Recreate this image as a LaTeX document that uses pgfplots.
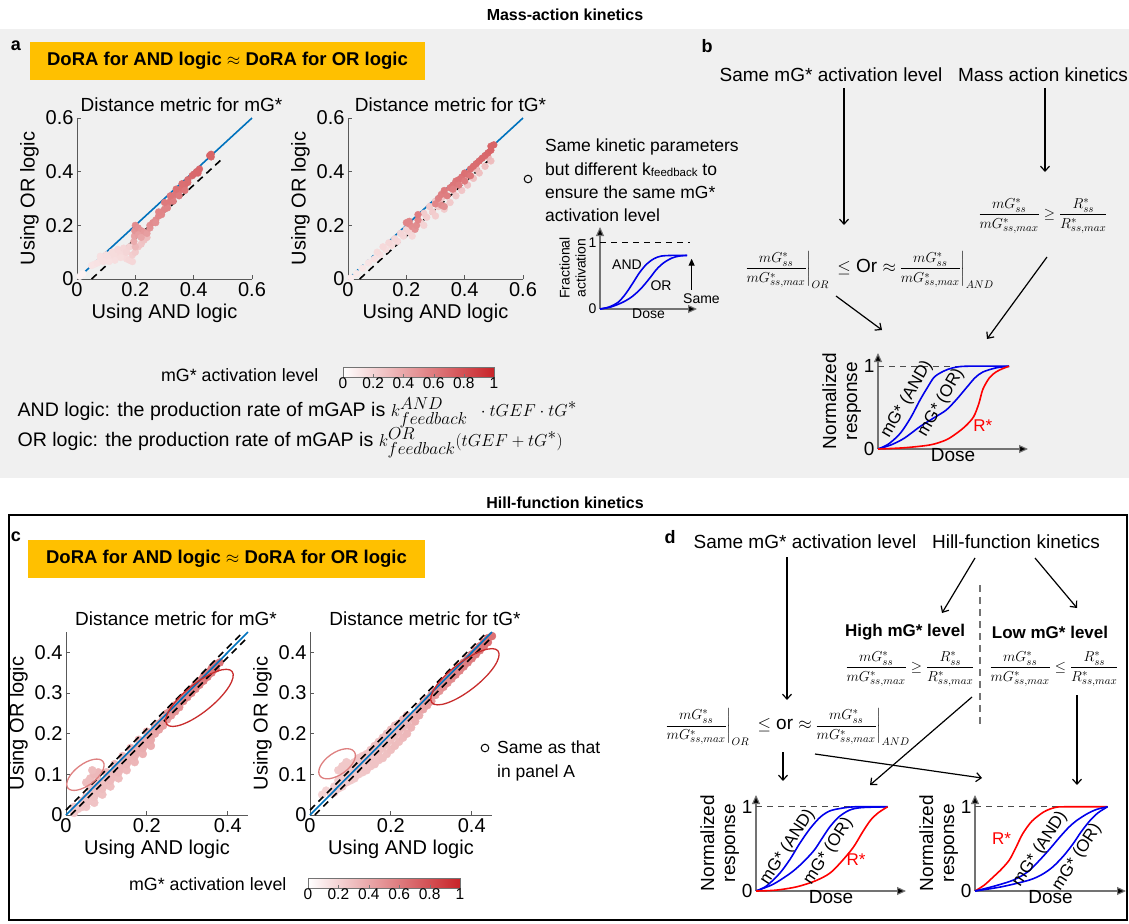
\documentclass[border=0pt]{standalone}
\usepackage{amsmath}
\usepackage{pgfplots}
\pgfplotsset{compat=1.18}
\usepackage{fontspec}
\setmainfont{Liberation Sans}
\usetikzlibrary{arrows.meta}
\DeclareMathSizes{19}{19}{16}{12}
\newcommand\fs[2]{\fontsize{#1}{#2}\selectfont}
\definecolor{bgray}{RGB}{240,240,240}
\definecolor{orng}{RGB}{255,192,0}
\definecolor{mblue}{RGB}{0,114,189}
\definecolor{ellA}{RGB}{222,128,128}
\definecolor{ellB}{RGB}{200,45,45}
\definecolor{cblue}{RGB}{0,0,235}
\definecolor{cred}{RGB}{255,0,0}
\newcommand\mgfrac{\dfrac{mG^*_{ss}}{mG^*_{ss,max}}}
\newcommand\rfrac{\dfrac{R^*_{ss}}{R^*_{ss,max}}}
\pgfplotsset{
  wrmap/.style={colormap={wr}{rgb255(0)=(255,255,255) rgb255(1)=(200,35,40)}, point meta min=0, point meta max=1},
  sc/.style={wrmap,
    scale only axis, clip=false, clip marker paths=true,
    axis x line*=bottom, axis y line*=left,
    axis line style={line width=0.8pt, black!65},
    tick style={black!65, line width=0.8pt},
    tick align=inside, major tick length=4pt,
    ticklabel style={font=\fs{20}{22}},
    /pgf/number format/assume math mode=true,
    xlabel style={font=\fs{20}{22}},
    ylabel style={font=\fs{20}{22}},
    title style={font=\fs{19}{22}, yshift=-3pt},
  },
  inset/.style={
    scale only axis, clip=false, axis lines=left,
    axis line style={line width=1.1pt, black!55},
    every outer x axis line/.append style={-{Triangle[length=9pt,width=8pt,fill=black]}},
    every outer y axis line/.append style={-{Triangle[length=9pt,width=8pt,fill=black]}},
    xtick=\empty, ytick={0,1}, major tick length=0pt,
    /pgf/number format/assume math mode=true,
    ymin=0, xmin=0,
  },
  cbar/.style={wrmap, scale only axis, xmin=0,xmax=1,ymin=0,ymax=1, ytick=\empty,
    xtick={0,0.2,0.4,0.6,0.8,1}, xtick pos=lower, tick align=inside, major tick length=3pt,
    axis line style={black!55, line width=0.9pt}, tick style={black!55},
    xticklabel style={font=\fs{15.5}{17}, yshift=3pt}, /pgf/number format/assume math mode=true,
    axis on top},
}
\begin{document}
\begin{tikzpicture}
\begin{scope}[x=1pt,y=-1pt]
\path[use as bounding box] (0,0) rectangle (1129,923);
\fill[bgray] (0,29) rectangle (1129,478);
\node[font=\bfseries\fs{16}{19}] at (565,15) {Mass-action kinetics};
\node[font=\bfseries\fs{16}{19}] at (565,503) {Hill-function kinetics};
\draw[line width=1.4pt] (9,515) rectangle (1127,920);
\node[font=\bfseries\fs{18}{20}] at (16,46) {a};
\node[font=\bfseries\fs{18}{20}] at (707,46) {b};
\node[font=\bfseries\fs{18}{20}] at (16,537) {c};
\node[font=\bfseries\fs{18}{20}] at (670,537) {d};
\fill[orng] (30,42) rectangle (425,80);
\node[font=\bfseries\fs{18.5}{20}] at (227.5,61) {DoRA for AND logic $\approx$ DoRA for OR logic};
\fill[orng] (28,540) rectangle (425,578);
\node[font=\bfseries\fs{18.5}{20}] at (226.5,559) {DoRA for AND logic $\approx$ DoRA for OR logic};
% side text a
\draw[line width=1pt] (528,179) circle (3.8);
\begin{scope}[every node/.style={anchor=west, font=\fs{17.5}{20}, inner sep=0pt}]
\node at (545,147) {Same kinetic parameters};
\node at (545,170) {but different k{\fs{11.5}{12}\raisebox{-1pt}{feedback}} to};
\node at (545,192) {ensure the same mG*};
\node at (545,215) {activation level};
\node at (497,747) {Same as that};
\node at (497,773) {in panel A};
\end{scope}
\draw[line width=1pt] (485,748) circle (3.8);
\node[anchor=east, font=\fs{17.8}{20}] at (322,375) {mG* activation level};
\node[anchor=east, font=\fs{17.8}{20}] at (290,884) {mG* activation level};
\node[anchor=west, font=\fs{19.6}{22}] at (14,413) {AND logic: the production rate of mGAP is {\fs{19}{22}$k^{AND}_{feedback}\;\;\cdot tGEF\cdot tG^*$}};
\node[anchor=west, font=\fs{19.6}{22}] at (14,443) {OR logic: the production rate of mGAP is {\fs{19}{22}$k^{OR}_{feedback}(tGEF+tG^*)$}};
% panel b
\node[font=\fs{19}{22}] at (831,75) {Same mG* activation level};
\node[font=\fs{19}{22}] at (1043,75) {Mass action kinetics};
\begin{scope}[line width=1.2pt, -{Straight Barb[length=5pt,width=9pt]}]
\draw (844,88) -- (844,225);
\draw (1045,88) -- (1045,172);
\draw (1047,257) -- (987,339);
\draw (836,296) -- (882,330);
\end{scope}
\node[font=\fs{15}{18}] at (1043,216) {$\mgfrac \geq \rfrac$};
\node[font=\fs{15}{18}] at (869,270) {$\left.\mgfrac\right|_{OR}$\ \ {\fs{19}{22}$\leq$ Or $\approx$}\,$\left.\mgfrac\right|_{AND}$};
% panel d
\node[font=\fs{19}{22}] at (805,542) {Same mG* activation level};
\node[font=\fs{19}{22}] at (1016,542) {Hill-function kinetics};
\node[font=\bfseries\fs{17}{20}] at (905,632) {High mG* level};
\node[font=\bfseries\fs{17}{20}] at (1050,632) {Low mG* level};
\draw[black!55, line width=1.2pt, dash pattern=on 7pt off 5pt] (980,585) -- (980,727);
\node[font=\fs{15}{18}] at (910,669) {$\mgfrac \geq \rfrac$};
\node[font=\fs{15}{18}] at (1054,669) {$\mgfrac \leq \rfrac$};
\node[font=\fs{15}{18}] at (787,727) {$\left.\mgfrac\right|_{OR}$\ \ {\fs{19}{22}$\leq$ or $\approx$}\,$\left.\mgfrac\right|_{AND}$};
\begin{scope}[line width=1.2pt, -{Straight Barb[length=5pt,width=9pt]}]
\draw (787,557) -- (787,700);
\draw (975,558) -- (942,613);
\draw (1035,558) -- (1077,608);
\draw (972,697) -- (870,785);
\draw (815,754) -- (982,778);
\draw (783,752) -- (783,781);
\draw (1077,695) -- (1077,785);
\end{scope}
\end{scope}

% ---------- a1
\begin{axis}[sc, at={(77pt,-279pt)}, anchor=south west, width=175pt, height=161pt,
  xmin=0,xmax=0.6,ymin=0,ymax=0.6, xtick={0,0.2,0.4,0.6}, ytick={0,0.2,0.4,0.6},
  title={Distance metric for mG*}, title style={xshift=17pt},
  xlabel={Using AND logic}, ylabel={Using OR logic}]
\addplot[mblue, line width=1.6pt] coordinates {(0.01,0.01) (0.6,0.6)};
\addplot[black, line width=1.6pt, dash pattern=on 7pt off 5pt] coordinates {(0.05,0) (0.5,0.45)};
\addplot[scatter, only marks, mark=*, mark size=3.4pt, point meta=explicit,
  scatter/use mapped color={draw=mapped color, fill=mapped color}] table[x=x,y=y,meta=m] {
x y m
0.01 0.01 0.05
0.02 0.02 0.06
0.05 0.05 0.12
0.06 0.055 0.12
0.07 0.06 0.13
0.08 0.07 0.13
0.09 0.065 0.14
0.10 0.075 0.14
0.11 0.08 0.15
0.12 0.075 0.15
0.13 0.085 0.16
0.14 0.09 0.16
0.15 0.095 0.17
0.16 0.085 0.17
0.17 0.075 0.17
0.18 0.07 0.18
0.19 0.065 0.18
0.08 0.085 0.14
0.10 0.09 0.15
0.12 0.10 0.16
0.14 0.11 0.17
0.16 0.115 0.18
0.18 0.12 0.2
0.17 0.10 0.19
0.15 0.08 0.16
0.13 0.07 0.15
0.11 0.065 0.14
0.19 0.09 0.22
0.20 0.10 0.24
0.21 0.12 0.26
0.22 0.13 0.27
0.23 0.145 0.28
0.24 0.155 0.3
0.20 0.12 0.32
0.195 0.14 0.38
0.197 0.16 0.42
0.198 0.18 0.48
0.20 0.20 0.52
0.21 0.19 0.5
0.22 0.18 0.48
0.23 0.175 0.46
0.24 0.17 0.44
0.21 0.165 0.44
0.22 0.155 0.4
0.25 0.19 0.48
0.25 0.20 0.5
0.26 0.21 0.52
0.27 0.22 0.52
0.28 0.235 0.54
0.29 0.25 0.55
0.30 0.26 0.56
0.31 0.28 0.58
0.32 0.29 0.6
0.33 0.31 0.6
0.34 0.32 0.62
0.35 0.33 0.62
0.36 0.34 0.64
0.37 0.35 0.65
0.38 0.37 0.66
0.38 0.36 0.66
0.37 0.33 0.62
0.35 0.31 0.6
0.33 0.29 0.58
0.31 0.265 0.56
0.29 0.24 0.54
0.27 0.21 0.5
0.30 0.285 0.6
0.32 0.31 0.62
0.34 0.335 0.64
0.36 0.355 0.65
0.28 0.25 0.55
0.395 0.385 0.67
0.40 0.39 0.68
0.41 0.40 0.68
0.42 0.41 0.69
0.415 0.395 0.68
0.46 0.455 0.7
0.46 0.465 0.7
0.455 0.46 0.7
};
\end{axis}

% ---------- a2
\begin{axis}[sc, at={(348pt,-279pt)}, anchor=south west, width=175pt, height=161pt,
  xmin=0,xmax=0.6,ymin=0,ymax=0.6, xtick={0,0.2,0.4,0.6}, ytick={0,0.2,0.4,0.6},
  title={Distance metric for tG*}, title style={xshift=15pt},
  xlabel={Using AND logic}, ylabel={Using OR logic}]
\addplot[mblue, line width=1.6pt, dash pattern=on 3pt off 4pt] coordinates {(0.01,0.01) (0.14,0.14)};
\addplot[mblue, line width=1.6pt] coordinates {(0.14,0.14) (0.6,0.6)};
\addplot[black, line width=1.6pt, dash pattern=on 7pt off 5pt] coordinates {(0.04,0) (0.49,0.45)};
\addplot[scatter, only marks, mark=*, mark size=3.4pt, point meta=explicit,
  scatter/use mapped color={draw=mapped color, fill=mapped color}] table[x=x,y=y,meta=m] {
x y m
0.01 0.005 0.08
0.03 0.02 0.1
0.05 0.04 0.11
0.07 0.06 0.12
0.09 0.075 0.13
0.11 0.09 0.14
0.13 0.11 0.15
0.15 0.125 0.16
0.17 0.14 0.17
0.19 0.16 0.18
0.21 0.175 0.19
0.23 0.19 0.2
0.25 0.21 0.21
0.27 0.23 0.22
0.29 0.25 0.23
0.31 0.27 0.24
0.10 0.10 0.16
0.12 0.12 0.17
0.14 0.135 0.18
0.16 0.15 0.18
0.18 0.17 0.19
0.20 0.185 0.2
0.26 0.245 0.23
0.28 0.27 0.24
0.30 0.29 0.25
0.32 0.30 0.26
0.22 0.16 0.18
0.26 0.20 0.2
0.30 0.235 0.22
0.33 0.26 0.23
0.35 0.285 0.24
0.37 0.31 0.25
0.39 0.33 0.26
0.41 0.35 0.27
0.43 0.375 0.28
0.45 0.395 0.28
0.47 0.42 0.29
0.49 0.44 0.3
0.36 0.33 0.27
0.40 0.37 0.28
0.44 0.41 0.3
0.48 0.455 0.32
0.20 0.21 0.55
0.21 0.205 0.55
0.22 0.195 0.52
0.23 0.185 0.5
0.235 0.20 0.52
0.24 0.22 0.55
0.24 0.24 0.58
0.21 0.215 0.55
0.30 0.28 0.55
0.31 0.30 0.57
0.32 0.315 0.58
0.33 0.33 0.6
0.32 0.275 0.52
0.33 0.27 0.5
0.34 0.31 0.58
0.35 0.34 0.6
0.36 0.35 0.62
0.37 0.365 0.62
0.38 0.37 0.63
0.39 0.38 0.63
0.40 0.395 0.65
0.41 0.39 0.64
0.42 0.41 0.65
0.43 0.42 0.66
0.44 0.43 0.66
0.45 0.44 0.67
0.46 0.45 0.68
0.47 0.46 0.68
0.48 0.47 0.69
0.49 0.48 0.7
0.50 0.50 0.7
0.49 0.495 0.7
0.38 0.35 0.6
0.40 0.365 0.6
0.42 0.385 0.62
0.36 0.335 0.58
};
\end{axis}

% ---------- inset a
\begin{axis}[inset, at={(600pt,-309pt)}, anchor=south west, width=97pt, height=82pt,
  xmax=1.08, ymax=1.24, ticklabel style={font=\fs{14}{16}},
  xlabel={Dose}, ylabel={Fractional\\activation},
  xlabel style={font=\fs{14}{16}, yshift=4pt}, ylabel style={font=\fs{14}{16}, align=center, yshift=-4pt}]
\addplot[black, line width=0.9pt, dash pattern=on 6pt off 5pt] coordinates {(0,1) (1,1)};
\addplot[cblue, line width=1.6pt, smooth] coordinates {(0,0) (0.1,0.03) (0.2,0.1) (0.28,0.22) (0.36,0.38) (0.44,0.55) (0.52,0.68) (0.6,0.76) (0.68,0.8) (0.8,0.81) (0.97,0.81)};
\addplot[cblue, line width=1.6pt, smooth] coordinates {(0,0) (0.12,0.03) (0.25,0.1) (0.35,0.18) (0.45,0.3) (0.55,0.46) (0.63,0.6) (0.71,0.7) (0.8,0.77) (0.88,0.8) (0.97,0.81)};
\node[font=\fs{14}{16}] at (axis cs:0.3,0.67) {AND};
\node[font=\fs{14}{16}] at (axis cs:0.68,0.36) {OR};
\node[font=\fs{14}{16}] at (axis cs:1.13,0.16) {Same};
\draw[line width=1.1pt, -{Triangle[length=7pt,width=6pt]}] (axis cs:1.02,0.29) -- (axis cs:1.02,0.76);
\end{axis}

% ---------- inset b
\begin{axis}[inset, at={(878pt,-449pt)}, anchor=south west, width=150pt, height=96pt,
  xmax=1.145, ymax=1.16, ticklabel style={font=\fs{19}{21}},
  xlabel={Dose}, ylabel={Normalized\\response},
  xlabel style={font=\fs{19}{21}, yshift=4pt}, ylabel style={font=\fs{19}{21}, align=center, yshift=-4pt}]
\addplot[black!70, line width=0.9pt, dash pattern=on 6pt off 5pt] coordinates {(0,1) (1,1)};
\addplot[cblue, line width=1.6pt, smooth] coordinates {(0,0) (0.08,0.06) (0.17,0.19) (0.25,0.38) (0.32,0.59) (0.38,0.75) (0.43,0.87) (0.5,0.94) (0.57,0.98) (0.67,1) (1,1)};
\addplot[cblue, line width=1.6pt, smooth] coordinates {(0,0) (0.1,0.05) (0.2,0.13) (0.32,0.27) (0.42,0.37) (0.52,0.47) (0.6,0.6) (0.68,0.75) (0.74,0.86) (0.8,0.93) (0.9,0.98) (1,1)};
\addplot[cred, line width=1.6pt, smooth] coordinates {(0,0) (0.2,0.015) (0.4,0.05) (0.52,0.11) (0.6,0.19) (0.67,0.28) (0.73,0.39) (0.77,0.55) (0.8,0.72) (0.85,0.86) (0.9,0.93) (0.95,0.97) (1,1)};
\node[font=\fs{17}{19}, rotate=60] at (axis cs:0.22,0.6) {mG* (AND)};
\node[font=\fs{17}{19}, rotate=60] at (axis cs:0.48,0.56) {mG* (OR)};
\node[font=\fs{17}{19}, text=cred] at (axis cs:0.8,0.28) {R*};
\end{axis}

% ---------- c1
\begin{axis}[sc, at={(66pt,-815pt)}, anchor=south west, width=182pt, height=183pt,
  xmin=0,xmax=0.45,ymin=0,ymax=0.45, xtick={0,0.2,0.4}, ytick={0,0.1,0.2,0.3,0.4},
  title={Distance metric for mG*}, title style={xshift=19pt},
  xlabel={Using AND logic}, ylabel={Using OR logic}]
\addplot[scatter, only marks, mark=*, mark size=4pt, point meta=explicit,
  scatter/use mapped color={draw=mapped color, fill=mapped color}] table[x=x,y=y,meta=m] {
x y m
0.02 0.005 0.25
0.02 0.02 0.25
0.03 0.015 0.25
0.04 0.02 0.26
0.04 0.035 0.26
0.05 0.02 0.26
0.05 0.03 0.27
0.05 0.045 0.27
0.06 0.035 0.27
0.06 0.05 0.28
0.06 0.065 0.28
0.07 0.03 0.27
0.07 0.045 0.28
0.07 0.06 0.28
0.07 0.075 0.29
0.08 0.055 0.29
0.08 0.07 0.29
0.08 0.085 0.3
0.09 0.05 0.28
0.09 0.065 0.3
0.09 0.08 0.3
0.10 0.075 0.3
0.10 0.09 0.3
0.10 0.105 0.31
0.11 0.07 0.29
0.11 0.085 0.31
0.11 0.10 0.31
0.12 0.095 0.31
0.12 0.11 0.32
0.12 0.125 0.32
0.13 0.09 0.3
0.13 0.105 0.32
0.13 0.12 0.32
0.14 0.115 0.33
0.14 0.13 0.33
0.14 0.145 0.33
0.15 0.11 0.31
0.15 0.125 0.33
0.15 0.14 0.34
0.16 0.135 0.34
0.16 0.15 0.34
0.16 0.165 0.35
0.17 0.13 0.33
0.17 0.145 0.35
0.17 0.16 0.35
0.18 0.155 0.36
0.18 0.17 0.36
0.18 0.185 0.36
0.19 0.15 0.35
0.19 0.165 0.37
0.19 0.18 0.37
0.20 0.175 0.38
0.20 0.19 0.38
0.20 0.205 0.38
0.21 0.17 0.37
0.21 0.185 0.39
0.21 0.20 0.4
0.22 0.20 0.4
0.22 0.215 0.41
0.23 0.21 0.42
0.23 0.225 0.42
0.24 0.22 0.43
0.24 0.235 0.44
0.25 0.235 0.45
0.25 0.25 0.46
0.26 0.245 0.47
0.26 0.26 0.48
0.27 0.255 0.49
0.27 0.27 0.5
0.28 0.265 0.5
0.28 0.28 0.52
0.29 0.28 0.52
0.29 0.29 0.53
0.30 0.29 0.54
0.30 0.30 0.55
0.31 0.30 0.55
0.31 0.31 0.56
0.32 0.31 0.56
0.32 0.32 0.57
0.33 0.32 0.57
0.33 0.33 0.58
0.34 0.33 0.58
0.34 0.34 0.59
0.35 0.34 0.6
0.35 0.35 0.6
0.36 0.35 0.6
0.36 0.36 0.61
0.37 0.36 0.62
0.37 0.37 0.62
0.38 0.375 0.63
0.05 0.08 0.3
0.06 0.09 0.3
0.07 0.10 0.32
0.08 0.105 0.32
0.065 0.11 0.3
};
\addplot[black, line width=1.6pt, dash pattern=on 7pt off 5pt] coordinates {(0,0.012) (0.438,0.45)};
\addplot[black, line width=1.6pt, dash pattern=on 7pt off 5pt] coordinates {(0.012,0) (0.45,0.438)};
\addplot[mblue, line width=1.6pt] coordinates {(0,0) (0.45,0.45)};
\draw[ellB, line width=1.3pt, rotate around={39:(axis cs:0.33,0.288)}] (axis cs:0.33,0.288) ellipse [x radius=42pt, y radius=14pt];
\draw[ellA, line width=1.3pt, rotate around={37:(axis cs:0.048,0.099)}] (axis cs:0.048,0.099) ellipse [x radius=22pt, y radius=10.5pt];
\end{axis}

% ---------- c2
\begin{axis}[sc, at={(310pt,-815pt)}, anchor=south west, width=182pt, height=183pt,
  xmin=0,xmax=0.45,ymin=0,ymax=0.45, xtick={0,0.2,0.4}, ytick={0,0.1,0.2,0.3,0.4},
  title={Distance metric for tG*}, title style={xshift=24pt},
  xlabel={Using AND logic}, ylabel={Using OR logic}]
\addplot[scatter, only marks, mark=*, mark size=4pt, point meta=explicit,
  scatter/use mapped color={draw=mapped color, fill=mapped color}] table[x=x,y=y,meta=m] {
x y m
0.03 0.05 0.2
0.04 0.06 0.2
0.05 0.055 0.2
0.06 0.07 0.21
0.06 0.055 0.21
0.07 0.065 0.22
0.07 0.085 0.22
0.08 0.07 0.22
0.08 0.09 0.23
0.08 0.11 0.23
0.09 0.08 0.23
0.09 0.10 0.23
0.09 0.12 0.24
0.10 0.085 0.24
0.10 0.105 0.24
0.10 0.125 0.25
0.11 0.09 0.24
0.11 0.11 0.25
0.11 0.13 0.25
0.12 0.10 0.25
0.12 0.12 0.26
0.12 0.14 0.26
0.13 0.105 0.25
0.13 0.125 0.26
0.13 0.145 0.26
0.14 0.11 0.26
0.14 0.13 0.26
0.14 0.15 0.27
0.15 0.12 0.26
0.15 0.14 0.27
0.15 0.16 0.27
0.16 0.125 0.27
0.16 0.145 0.27
0.16 0.17 0.28
0.17 0.135 0.27
0.17 0.155 0.28
0.17 0.18 0.28
0.18 0.14 0.28
0.18 0.165 0.28
0.18 0.19 0.29
0.19 0.15 0.28
0.19 0.175 0.29
0.19 0.20 0.29
0.20 0.16 0.29
0.20 0.185 0.29
0.20 0.21 0.3
0.21 0.17 0.3
0.21 0.195 0.3
0.21 0.22 0.3
0.22 0.18 0.3
0.22 0.205 0.31
0.22 0.225 0.31
0.23 0.19 0.31
0.23 0.215 0.31
0.23 0.235 0.32
0.24 0.20 0.32
0.24 0.225 0.32
0.24 0.245 0.33
0.25 0.215 0.33
0.25 0.24 0.34
0.26 0.23 0.35
0.26 0.25 0.36
0.27 0.245 0.37
0.27 0.265 0.38
0.28 0.26 0.4
0.28 0.275 0.41
0.29 0.27 0.42
0.29 0.285 0.43
0.30 0.28 0.44
0.30 0.295 0.45
0.31 0.295 0.46
0.31 0.305 0.47
0.32 0.305 0.48
0.32 0.315 0.49
0.33 0.315 0.5
0.33 0.325 0.5
0.34 0.325 0.51
0.34 0.335 0.52
0.35 0.335 0.52
0.35 0.345 0.53
0.36 0.345 0.54
0.36 0.355 0.55
0.37 0.355 0.55
0.37 0.365 0.56
0.38 0.365 0.57
0.38 0.375 0.57
0.39 0.375 0.58
0.39 0.385 0.58
0.40 0.385 0.59
0.40 0.395 0.6
0.41 0.395 0.6
0.41 0.405 0.61
0.42 0.405 0.61
0.42 0.415 0.62
0.43 0.415 0.62
0.43 0.425 0.63
0.44 0.425 0.63
0.44 0.435 0.64
0.45 0.44 0.64
0.07 0.11 0.24
0.08 0.12 0.25
0.09 0.13 0.25
};
\addplot[black, line width=1.6pt, dash pattern=on 7pt off 5pt] coordinates {(0,0.012) (0.438,0.45)};
\addplot[black, line width=1.6pt, dash pattern=on 7pt off 5pt] coordinates {(0.012,0) (0.45,0.438)};
\addplot[mblue, line width=1.6pt] coordinates {(0,0) (0.45,0.45)};
\draw[ellB, line width=1.3pt, rotate around={38:(axis cs:0.383,0.34)}] (axis cs:0.383,0.34) ellipse [x radius=42pt, y radius=14pt];
\draw[ellA, line width=1.3pt, rotate around={35:(axis cs:0.067,0.126)}] (axis cs:0.067,0.126) ellipse [x radius=21pt, y radius=11pt];
\end{axis}

% ---------- inset d1
\begin{axis}[inset, at={(756pt,-891pt)}, anchor=south west, width=150pt, height=96pt,
  xmax=1.14, ymax=1.14, ticklabel style={font=\fs{19}{21}},
  xlabel={Dose}, ylabel={Normalized\\response},
  xlabel style={font=\fs{19}{21}, yshift=4pt}, ylabel style={font=\fs{19}{21}, align=center, yshift=-4pt}]
\addplot[black!70, line width=0.9pt, dash pattern=on 6pt off 5pt] coordinates {(0,1) (1,1)};
\addplot[cblue, line width=1.6pt, smooth] coordinates {(0,0) (0.08,0.06) (0.18,0.21) (0.26,0.38) (0.33,0.56) (0.41,0.74) (0.49,0.88) (0.56,0.95) (0.64,0.98) (0.75,1) (1,1)};
\addplot[cblue, line width=1.6pt, smooth] coordinates {(0,0) (0.13,0.08) (0.26,0.21) (0.35,0.33) (0.44,0.48) (0.5,0.62) (0.56,0.76) (0.63,0.88) (0.71,0.96) (0.8,0.99) (1,1)};
\addplot[cred, line width=1.6pt, smooth] coordinates {(0,0) (0.15,0.01) (0.31,0.05) (0.45,0.12) (0.56,0.21) (0.65,0.35) (0.74,0.52) (0.81,0.7) (0.87,0.84) (0.93,0.93) (1,1)};
\node[font=\fs{17}{19}, rotate=57] at (axis cs:0.24,0.52) {mG* (AND)};
\node[font=\fs{17}{19}, rotate=57] at (axis cs:0.55,0.47) {mG* (OR)};
\node[font=\fs{17}{19}, text=cred] at (axis cs:0.76,0.37) {R*};
\end{axis}

% ---------- inset d2
\begin{axis}[inset, at={(975pt,-891pt)}, anchor=south west, width=151pt, height=96pt,
  xmax=1.14, ymax=1.14, ticklabel style={font=\fs{19}{21}},
  xlabel={Dose}, ylabel={Normalized\\response},
  xlabel style={font=\fs{19}{21}, yshift=4pt}, ylabel style={font=\fs{19}{21}, align=center, yshift=-4pt}]
\addplot[black!70, line width=0.9pt, dash pattern=on 6pt off 5pt] coordinates {(0,1) (1,1)};
\addplot[cred, line width=1.6pt, smooth] coordinates {(0,0) (0.07,0.07) (0.14,0.17) (0.2,0.26) (0.26,0.37) (0.31,0.52) (0.36,0.68) (0.43,0.83) (0.52,0.94) (0.6,0.99) (0.67,1) (1,1)};
\addplot[cblue, line width=1.6pt, smooth] coordinates {(0,0) (0.15,0.06) (0.29,0.13) (0.4,0.23) (0.49,0.37) (0.57,0.51) (0.64,0.64) (0.71,0.76) (0.77,0.84) (0.85,0.92) (0.92,0.97) (1,1)};
\addplot[cblue, line width=1.6pt, smooth] coordinates {(0,0) (0.2,0.05) (0.41,0.13) (0.51,0.2) (0.59,0.29) (0.67,0.42) (0.74,0.56) (0.8,0.7) (0.87,0.84) (0.93,0.93) (1,1)};
\node[font=\fs{17}{19}, text=cred] at (axis cs:0.2,0.62) {R*};
\node[font=\fs{17}{19}, rotate=57] at (axis cs:0.49,0.5) {mG* (AND)};
\node[font=\fs{17}{19}, rotate=57] at (axis cs:0.77,0.4) {mG* (OR)};
\end{axis}

% ---------- colorbars
\begin{axis}[cbar, at={(343pt,-377pt)}, anchor=south west, width=151pt, height=10pt]
\addplot[patch, shader=interp, point meta=x] coordinates {(0,0) (1,0) (1,1) (0,0) (1,1) (0,1)};
\end{axis}
\begin{axis}[cbar, at={(308pt,-888pt)}, anchor=south west, width=152pt, height=10pt]
\addplot[patch, shader=interp, point meta=x] coordinates {(0,0) (1,0) (1,1) (0,0) (1,1) (0,1)};
\end{axis}
\end{tikzpicture}
\end{document}
